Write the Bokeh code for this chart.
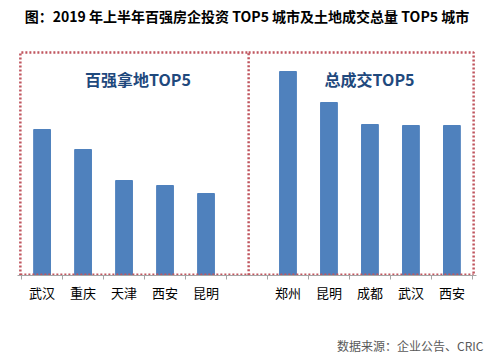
from bokeh.plotting import figure
from bokeh.models import FixedTicker, Label, Range1d, Title
from bokeh.embed import file_html
from bokeh.resources import INLINE

# Data (arbitrary units)
left_cities = ["武汉", "重庆", "天津", "西安", "昆明"]
left_values = [146, 126, 95, 90, 82]
right_cities = ["郑州", "昆明", "成都", "武汉", "西安"]
right_values = [204, 173, 151, 150, 150]
left_pos = [1, 2, 3, 4, 5]
right_pos = [7, 8, 9, 10, 11]
boundaries = [0.5 + i for i in range(12)]

title_text = "图：2019 年上半年百强房企投资 TOP5 城市及土地成交总量 TOP5 城市"
left_title = "百强拿地TOP5"
right_title = "总成交TOP5"
source_text = "数据来源：企业公告、CRIC"

FONT = "Noto Sans CJK SC"
BAR = "#4F81BD"
BOX = "#C0565F"

p = figure(width=495, height=359, output_backend="svg", toolbar_location=None,
           x_range=Range1d(0.4, 11.6), y_range=Range1d(0, 275),
           min_border_left=17, min_border_right=19, min_border_top=0, min_border_bottom=84)
p.title.visible = False
p.background_fill_color = "white"
p.border_fill_color = "white"
p.outline_line_color = None
p.xgrid.visible = False
p.ygrid.visible = False
p.yaxis.visible = False

p.vbar(x=left_pos, top=left_values, width=0.41, color=BAR)
p.vbar(x=right_pos, top=right_values, width=0.41, color=BAR)

# dotted boxes
p.line(x=[0.47, 0.47, 6.04, 6.04], y=[0, 223, 223, 0], line_color=BOX, line_width=2.5, line_dash="2 2")
p.line(x=[6.04, 11.53, 11.53], y=[223, 223, 0], line_color=BOX, line_width=2.5, line_dash="2 2")
p.line(x=[0.47, 11.53], y=[0.8, 0.8], line_color=BOX, line_width=2.5, line_dash="2 2")

labels = {}
for pos, c in zip(left_pos, left_cities):
    labels[pos] = c
for pos, c in zip(right_pos, right_cities):
    labels[pos] = c

ax = p.xaxis[0]
ax.ticker = FixedTicker(ticks=left_pos + right_pos, minor_ticks=boundaries)
ax.major_label_overrides = labels
ax.major_tick_out = 0
ax.major_tick_in = 0
ax.minor_tick_out = 4
ax.minor_tick_in = 0
ax.minor_tick_line_color = "#A6A6A6"
ax.axis_line_color = "#A6A6A6"
ax.major_label_text_font = FONT
ax.major_label_text_font_size = "13px"
ax.major_label_text_color = "#000000"
ax.major_label_standoff = 3

p.add_layout(Label(x=3.34, y=197, text=left_title, text_font=FONT, text_font_size="16px",
                   text_font_style="bold", text_color="#1F497D", text_align="center",
                   text_baseline="middle"))
p.add_layout(Label(x=8.99, y=197, text=right_title, text_font=FONT, text_font_size="16px",
                   text_font_style="bold", text_color="#1F497D", text_align="center",
                   text_baseline="middle"))

# chart title, inside the (extended) frame
p.add_layout(Label(x=6.0, y=260, text=title_text, text_font=FONT, text_font_size="14px",
                   text_font_style="bold", text_color="#000000", text_align="center",
                   text_baseline="middle"))

spacer = Title(text=" ", text_font=FONT, text_font_size="18px", standoff=0)
p.add_layout(spacer, "below")
src = Title(text=source_text, align="right", text_font=FONT, text_font_size="12px",
            text_font_style="normal", text_color="#595959", standoff=4, offset=-7)
p.add_layout(src, "below")

open("out.html", "w").write(file_html(p, INLINE))
